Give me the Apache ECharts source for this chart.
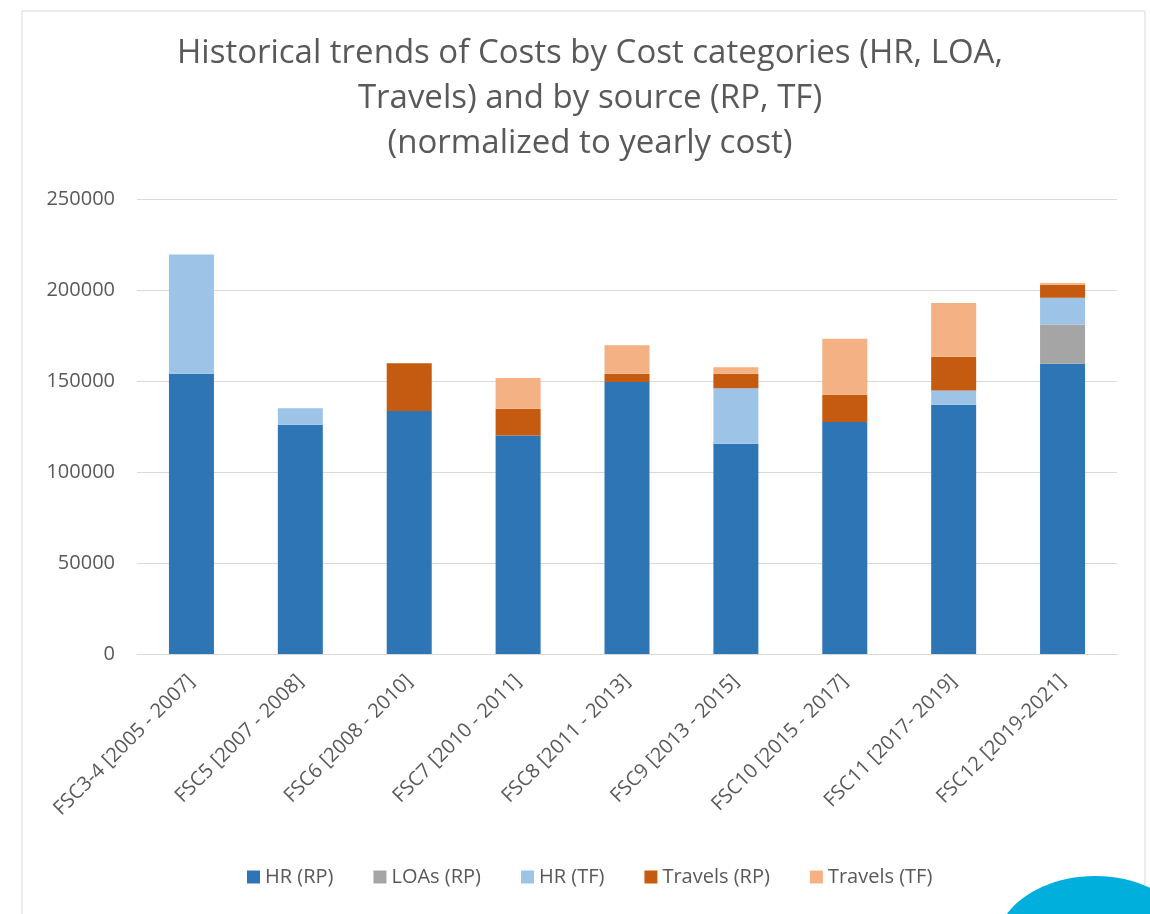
<!DOCTYPE html>
<html>
<head>
<meta charset="utf-8">
<title>Historical trends of Costs</title>
<script src="https://cdn.jsdelivr.net/npm/echarts@6/dist/echarts.min.js"></script>
<style>
  html, body { margin: 0; padding: 0; background: #fff; }
  #chart { width: 1150px; height: 914px; }
</style>
</head>
<body>
<div id="chart"></div>
<script>
// categories (funding cycles)
const cycles = [
  'FSC3-4 [2005 - 2007]',
  'FSC5 [2007 - 2008]',
  'FSC6 [2008 - 2010]',
  'FSC7 [2010 - 2011]',
  'FSC8 [2011 - 2013]',
  'FSC9 [2013 - 2015]',
  'FSC10 [2015 - 2017]',
  'FSC11 [2017- 2019]',
  'FSC12 [2019-2021]'
]

// stacked values
const hrRP      = [154000, 126000, 133500, 120000, 149500, 115500, 127500, 137000, 159500]
const loasRP    = [0, 0, 0, 0, 0, 0, 0, 0, 21500]
const hrTF      = [65500, 9000, 0, 0, 0, 30500, 0, 7800, 14700]
const travelsRP = [0, 0, 26300, 14700, 4500, 8000, 15000, 18500, 7200]
const travelsTF = [0, 0, 0, 17000, 15700, 3600, 30700, 29600, 900]

const seriesNames = ['HR (RP)', 'LOAs (RP)', 'HR (TF)', 'Travels (RP)', 'Travels (TF)']
const seriesColors = ['#2e75b6', '#a5a5a5', '#9dc3e6', '#c55a11', '#f4b183']
const yTicks = { min: 0, max: 250000, interval: 50000 }

const textColor = '#595959'
const fontFamily = '"Open Sans", "Noto Sans", sans-serif'

const chart = echarts.init(document.getElementById('chart'))

const option = {
  backgroundColor: '#ffffff',
  textStyle: { fontFamily: fontFamily },
  title: {
    text: 'Historical trends of Costs by Cost categories (HR, LOA,\nTravels) and by source (RP, TF)\n(normalized to yearly cost)',
    left: 585,
    textAlign: 'center',
    top: 26,
    textStyle: {
      color: textColor,
      fontWeight: 'normal',
      fontSize: 33,
      lineHeight: 45,
      fontFamily: fontFamily
    }
  },
  legend: {
    data: seriesNames,
    bottom: 22,
    left: 242,
    itemWidth: 13,
    itemHeight: 13,
    itemGap: 40,
    icon: 'rect',
    textStyle: { color: textColor, fontSize: 20, fontFamily: fontFamily }
  },
  grid: {
    left: 137,
    right: 33,
    top: 199,
    bottom: 260
  },
  xAxis: {
    type: 'category',
    data: cycles,
    axisLine: { lineStyle: { color: '#d9d9d9', width: 1 } },
    axisTick: { show: false },
    axisLabel: {
      rotate: 45,
      interval: 0,
      margin: 24,
      color: textColor,
      fontSize: 20,
      fontFamily: fontFamily
    }
  },
  yAxis: {
    type: 'value',
    min: yTicks.min,
    max: yTicks.max,
    interval: yTicks.interval,
    axisLine: { show: false },
    axisTick: { show: false },
    splitLine: { lineStyle: { color: '#d9d9d9', width: 1 } },
    axisLabel: {
      margin: 22,
      color: textColor,
      fontSize: 20,
      fontFamily: fontFamily,
      formatter: (v) => String(v)
    }
  },
  series: [hrRP, loasRP, hrTF, travelsRP, travelsTF].map((vals, i) => ({
    name: seriesNames[i],
    type: 'bar',
    stack: 'cost',
    barWidth: 45,
    data: vals,
    itemStyle: { color: seriesColors[i] }
  })),
  graphic: [
    {
      // outer frame of the pasted chart
      type: 'rect',
      silent: true,
      shape: { x: 22, y: 11, width: 1123, height: 920 },
      style: { fill: 'none', stroke: '#d9d9d9', lineWidth: 1 }
    },
    {
      // blue shape peeking in at the bottom right corner
      type: 'ellipse',
      silent: true,
      shape: { cx: 1095, cy: 948, rx: 100, ry: 72 },
      style: { fill: '#00afdb' }
    }
  ]
}

chart.setOption(option)
</script>
</body>
</html>
